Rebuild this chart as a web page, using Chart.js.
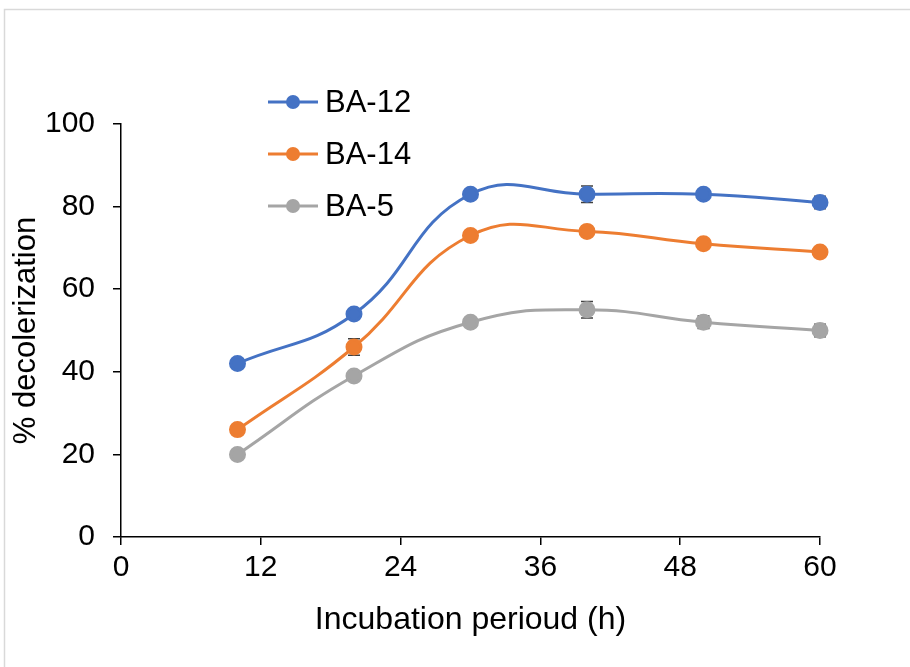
<!DOCTYPE html>
<html>
<head>
<meta charset="utf-8">
<script src="https://cdn.jsdelivr.net/npm/chart.js@4"></script>
<style>
  body { margin: 0; background: #fff; }
  canvas { display: block; }
</style>
</head>
<body>
<canvas id="chart" width="910" height="667"></canvas>
<script>
// Data
const hours = [10, 20, 30, 40, 50, 60];
const ba12 = [42, 54, 83, 83, 83, 81];
const ba14 = [26, 46, 73, 74, 71, 69];
const ba5 = [20, 39, 52, 55, 52, 50];
const ba12Err = [1, 1, 1, 2, 1, 1.5];
const ba14Err = [1, 2, 1, 1, 1, 1];
const ba5Err = [1, 1, 1, 2, 1.5, 1.5];
const seriesNames = ['BA-12', 'BA-14', 'BA-5'];
const seriesColors = ['#4472C4', '#ED7D31', '#A5A5A5'];
const xTicks = [0, 12, 24, 36, 48, 60];
const yTicks = [0, 20, 40, 60, 80, 100];

const allValues = [ba12, ba14, ba5];
const allErrors = [ba12Err, ba14Err, ba5Err];
const fontFamily = '"Liberation Sans", Arial, sans-serif';

function makeDataset(i) {
    return {
        label: seriesNames[i],
        data: hours.map((h, k) => ({ x: h, y: allValues[i][k] })),
        errors: allErrors[i],
        borderColor: seriesColors[i],
        backgroundColor: seriesColors[i],
        pointBackgroundColor: seriesColors[i],
        pointBorderColor: seriesColors[i],
        pointRadius: 7,
        pointHoverRadius: 7,
        borderWidth: 3,
        tension: 0.45,
        clip: false,
        fill: false
    };
}

// Light grey frame round the figure
const framePlugin = {
    id: 'frame',
    beforeDraw(chart) {
        const ctx = chart.ctx;
        ctx.save();
        ctx.fillStyle = '#fff';
        ctx.fillRect(0, 0, chart.width, chart.height);
        ctx.strokeStyle = '#d9d9d9';
        ctx.lineWidth = 1.5;
        ctx.beginPath();
        ctx.moveTo(4.5, chart.height);
        ctx.lineTo(4.5, 9.5);
        ctx.lineTo(chart.width, 9.5);
        ctx.stroke();
        ctx.restore();
    }
};

// Error bars drawn under the markers
const errorBarPlugin = {
    id: 'errorBars',
    beforeDatasetsDraw(chart) {
        const ctx = chart.ctx;
        const xs = chart.scales.x;
        const ys = chart.scales.y;
        ctx.save();
        ctx.strokeStyle = '#404040';
        ctx.lineWidth = 1.5;
        chart.data.datasets.forEach(ds => {
            ds.data.forEach((p, k) => {
                const e = ds.errors[k];
                const px = xs.getPixelForValue(p.x);
                const top = ys.getPixelForValue(p.y + e);
                const bot = ys.getPixelForValue(p.y - e);
                ctx.beginPath();
                ctx.moveTo(px, top);
                ctx.lineTo(px, bot);
                ctx.moveTo(px - 6, top);
                ctx.lineTo(px + 6, top);
                ctx.moveTo(px - 6, bot);
                ctx.lineTo(px + 6, bot);
                ctx.stroke();
            });
        });
        ctx.restore();
    }
};

// Vertical legend placed inside the plot, top left
const legendPlugin = {
    id: 'sideLegend',
    afterDraw(chart) {
        const ctx = chart.ctx;
        ctx.save();
        ctx.font = '31px ' + fontFamily;
        ctx.textBaseline = 'middle';
        chart.data.datasets.forEach((ds, i) => {
            const y = 102 + i * 52;
            ctx.strokeStyle = ds.borderColor;
            ctx.lineWidth = 3;
            ctx.beginPath();
            ctx.moveTo(268, y);
            ctx.lineTo(318, y);
            ctx.stroke();
            ctx.fillStyle = ds.borderColor;
            ctx.beginPath();
            ctx.arc(293, y, 7, 0, Math.PI * 2);
            ctx.fill();
            ctx.fillStyle = '#000';
            ctx.fillText(ds.label, 325, y + 1);
        });
        ctx.restore();
    }
};

const ctx = document.getElementById('chart').getContext('2d');
const chart = new Chart(ctx, {
    type: 'line',
    data: { datasets: [0, 1, 2].map(makeDataset) },
    plugins: [framePlugin, errorBarPlugin, legendPlugin],
    options: {
        responsive: false,
        animation: false,
        layout: { padding: { left: 5, right: 90, top: 124, bottom: 28 } },
        plugins: {
            legend: { display: false },
            tooltip: { enabled: false }
        },
        scales: {
            x: {
                type: 'linear',
                min: 0,
                max: 60,
                afterBuildTicks(scale) { scale.ticks = xTicks.map(v => ({ value: v })); },
                afterFit(scale) { scale.height = 102; },
                border: { display: true, color: '#000', width: 1.5 },
                grid: { drawOnChartArea: false, drawTicks: true, tickLength: 8, color: '#000', lineWidth: 1.5 },
                ticks: {
                    color: '#000',
                    padding: 5,
                    maxRotation: 0,
                    font: { family: fontFamily, size: 30 }
                },
                title: {
                    display: true,
                    text: 'Incubation perioud (h)',
                    color: '#000',
                    padding: { top: 0, bottom: 0 },
                    font: { family: fontFamily, size: 32 }
                }
            },
            y: {
                type: 'linear',
                min: 0,
                max: 100,
                afterBuildTicks(scale) { scale.ticks = yTicks.map(v => ({ value: v })); },
                afterFit(scale) { scale.width = 116; },
                border: { display: true, color: '#000', width: 1.5 },
                grid: { drawOnChartArea: false, drawTicks: true, tickLength: 8, color: '#000', lineWidth: 1.5 },
                ticks: {
                    color: '#000',
                    padding: 18,
                    font: { family: fontFamily, size: 30 }
                },
                title: {
                    display: true,
                    text: '% decolerization',
                    color: '#000',
                    padding: { top: 3, bottom: 0 },
                    font: { family: fontFamily, size: 31 }
                }
            }
        }
    }
});
</script>
</body>
</html>
